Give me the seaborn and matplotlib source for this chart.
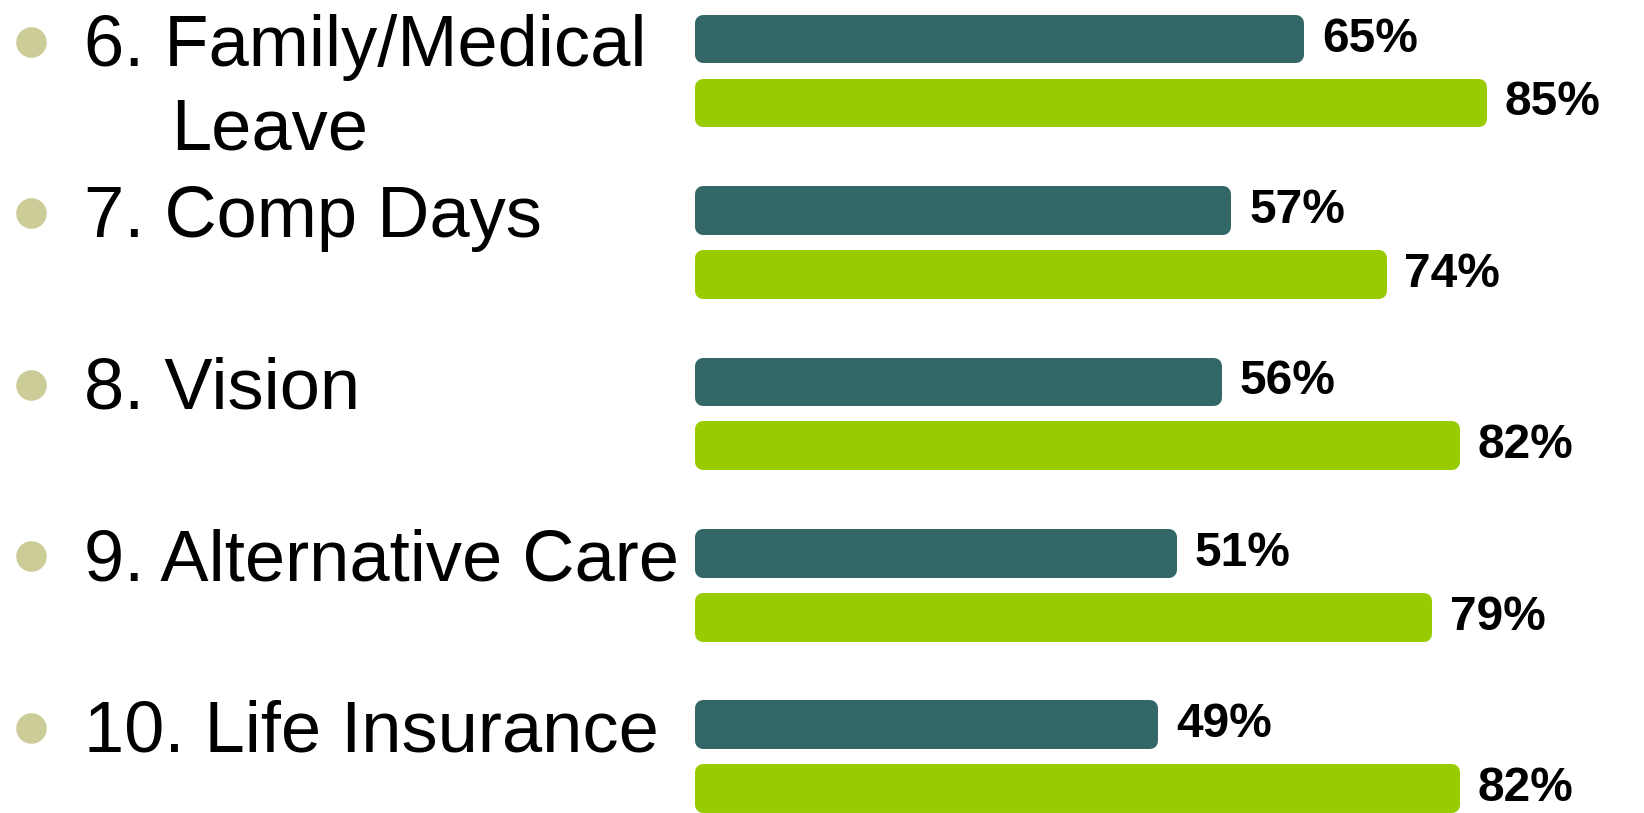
import numpy as np
import pandas as pd
import seaborn as sns
import matplotlib.pyplot as plt
from matplotlib.transforms import blended_transform_factory, offset_copy

# data
benefits = ['6. Family/Medical\nLeave', '7. Comp Days', '8. Vision',
            '9. Alternative Care', '10. Life Insurance']
series = ['series_1', 'series_2']
vals_1 = [65, 57, 56, 51, 49]
vals_2 = [85, 74, 82, 79, 82]

dark = '#336666'
green = '#99CC00'
bullet_col = '#CCCC99'

df = pd.DataFrame({
    'benefit': benefits * 2,
    'series': [series[0]] * len(benefits) + [series[1]] * len(benefits),
    'value': vals_1 + vals_2,
})

sns.set_style('white')
plt.rcParams['font.family'] = ['Liberation Sans', 'DejaVu Sans']

W, H, DPI = 16.44, 8.13, 100
fig = plt.figure(figsize=(W, H), dpi=DPI)
ax = fig.add_axes([695 / 1644, 0, 1 - 695 / 1644, 1])

sns.barplot(data=df, x='value', y='benefit', hue='series', orient='h',
            palette=[dark, green], width=0.746, gap=0.485, legend=False,
            saturation=1, ax=ax)

# rounded corners: stroke in the face colour with round joins
for p in ax.patches:
    p.set_edgecolor(p.get_facecolor())
    p.set_linewidth(11.5)
    p.set_joinstyle('round')

for cont in ax.containers:
    ax.bar_label(cont, labels=[f'{int(v)}%' for v in cont.datavalues],
                 padding=18.5, fontsize=34.5, fontweight='bold', color='black')

ax.set_xlim(-0.876, 103.07)
ax.set_ylim(4.327, -0.414)
ax.axis('off')

# left side: bulleted text list
trans = blended_transform_factory(fig.transFigure, ax.transData)
for i, lab in enumerate(benefits):
    lines = lab.split('\n')
    t0 = offset_copy(trans, fig=fig, y=5, units='dots')
    ax.text(84 / 1644, i, lines[0], transform=t0, fontsize=52,
            va='baseline', ha='left', color='black', clip_on=False)
    for j, extra in enumerate(lines[1:], start=1):
        tj = offset_copy(trans, fig=fig, y=5 - 84 * j, units='dots')
        ax.text(171 / 1644, i, extra, transform=tj, fontsize=52,
                va='baseline', ha='left', color='black', clip_on=False)
    tb = offset_copy(trans, fig=fig, y=5 + 24, units='dots')
    ax.plot([31 / 1644], [i], transform=tb, marker='o', ms=21,
            color=bullet_col, clip_on=False, linestyle='none')

fig.savefig('out.png', dpi=DPI)
